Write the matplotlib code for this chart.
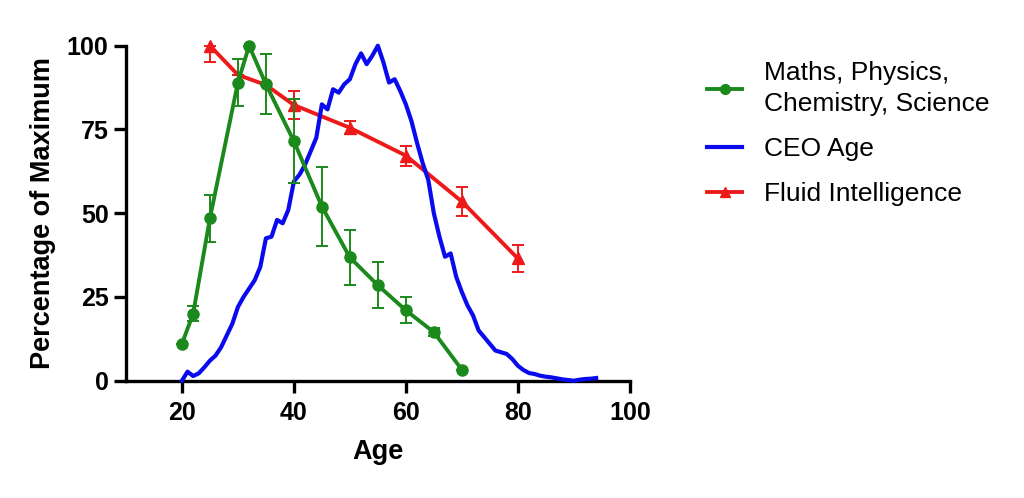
import matplotlib
matplotlib.use("Agg")
import matplotlib.pyplot as plt
from matplotlib.lines import Line2D

plt.rcParams['font.family'] = ['Liberation Sans', 'DejaVu Sans']

# Maths, Physics, Chemistry, Science (peak-normalised, with error)
sci_age = [20, 22, 25, 30, 32, 35, 40, 45, 50, 55, 60, 65, 70]
sci_val = [11, 20, 48.5, 89, 100, 88.5, 71.5, 52, 36.8, 28.5, 21, 14.5, 3.3]
sci_err = [0, 2.2, 7, 7, 0, 9, 12.5, 11.7, 8.2, 6.9, 3.9, 1.2, 0]

# CEO age distribution
ceo_age = list(range(20, 95))
ceo_val = [0, 2.7, 1.4, 2.2, 4, 6, 7.5, 10, 13.5, 17,
           22, 25, 27.5, 30, 34, 42.5, 43, 48, 47, 51,
           59.5, 61.5, 64.5, 68.5, 72.5, 82.5, 81, 87, 86, 88.5,
           90, 94.5, 97.7, 94.5, 97, 100, 95, 89, 90, 86.5,
           82.5, 77.5, 71, 65, 60, 50, 43, 37, 38, 31,
           26.5, 22.5, 19.5, 15, 13, 11, 9, 8.5, 8, 6.5,
           4.5, 3.2, 2.3, 2, 1.5, 1.2, 1, 0.7, 0.4, 0.2,
           0, 0.3, 0.5, 0.6, 0.8]

# Fluid intelligence
fl_age = [25, 30, 35, 40, 50, 60, 70, 80]
fl_val = [100, 91.3, 88.3, 82.3, 75.5, 67.2, 53.5, 36.5]
fl_err_lo = [5, 0, 0, 4.2, 2, 3, 4.3, 4]
fl_err_hi = [0, 0, 0, 4.2, 2, 3, 4.3, 4]

labels = ['Maths, Physics,\nChemistry, Science', 'CEO Age', 'Fluid Intelligence']

green = '#1b891b'
blue = '#0a0aee'
red = '#ee1a1a'

fig = plt.figure(figsize=(10.24, 4.98), dpi=100)
ax = fig.add_axes([0.123, 0.2355, 0.492, 0.6727])

fl_marks = [0, 3, 4, 5, 6, 7]
ax.errorbar(fl_age, fl_val, yerr=[fl_err_lo, fl_err_hi], color=red, lw=2.8,
            marker='^', ms=8, markevery=fl_marks, ecolor=red, elinewidth=1.4,
            capsize=4.5, capthick=1.4, zorder=2, clip_on=False)
ax.plot(ceo_age, ceo_val, color=blue, lw=3.0, zorder=3, clip_on=False)
ax.errorbar(sci_age, sci_val, yerr=sci_err, color=green, lw=2.8, marker='o',
            ms=8, ecolor=green, elinewidth=1.4, capsize=4.5, capthick=1.4,
            zorder=4, clip_on=False)

ax.set_xlim(10, 100)
ax.set_ylim(0, 100)
ax.set_xticks([20, 40, 60, 80, 100])
ax.set_yticks([0, 25, 50, 75, 100])
for s in ['top', 'right']:
    ax.spines[s].set_visible(False)
for s in ['left', 'bottom']:
    ax.spines[s].set_linewidth(2.4)
ax.tick_params(width=2.4, length=8.5, labelsize=18)
ax.tick_params(axis='x', pad=6)
ax.tick_params(axis='y', pad=4)
for t in ax.get_xticklabels() + ax.get_yticklabels():
    t.set_fontweight('bold')
ax.set_xlabel('Age', fontsize=19.5, fontweight='bold', labelpad=10)
ax.set_ylabel('Percentage of Maximum', fontsize=19.5, fontweight='bold', labelpad=8)

# legend handles: line + marker only, no error bars
handles = [Line2D([], [], color=green, lw=2.8, marker='o', ms=7),
           Line2D([], [], color=blue, lw=3.0),
           Line2D([], [], color=red, lw=2.8, marker='^', ms=7)]
leg = fig.legend(handles, labels, loc='upper left', bbox_to_anchor=(0.690, 0.878),
                 frameon=False, fontsize=19, handlelength=1.36, handletextpad=0.8,
                 labelspacing=0.8, borderpad=0, borderaxespad=0)
for t in leg.get_texts():
    t.set_linespacing(1.38)

fig.savefig('out.png', dpi=100)
